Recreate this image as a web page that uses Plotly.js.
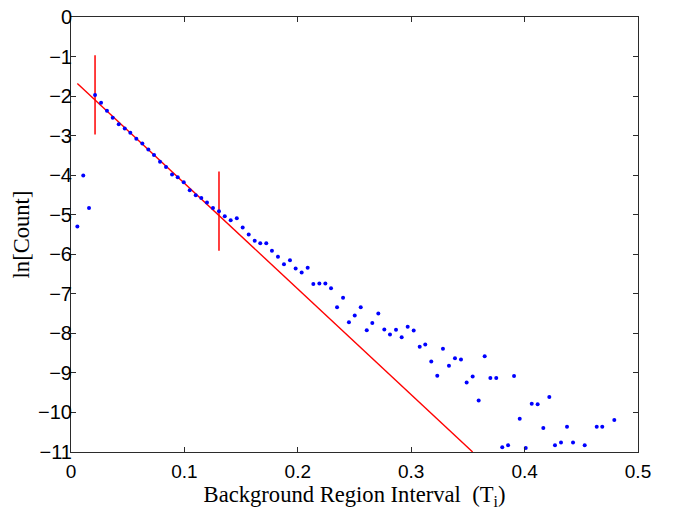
<!DOCTYPE html>
<html>
<head>
<meta charset="utf-8">
<script src="https://cdn.plot.ly/plotly-3.0.1.min.js"></script>
<style>html,body{margin:0;padding:0;background:#fff;}#chart{width:673px;height:512px;}</style>
</head>
<body>
<div id="chart"></div>
<script>
// Observed histogram points: ln[Count] versus background region interval
const intervalX = [0.0056,0.0108,0.0159,0.0212,0.0265,0.0317,0.0368,0.0421,0.0474,0.0523,
  0.0576,0.0629,0.0682,0.0732,0.0785,0.0838,0.0891,0.0941,0.0994,0.1047,
  0.1100,0.1149,0.1199,0.1252,0.1305,0.1356,0.1408,0.1462,0.1514,0.1567,
  0.1620,0.1669,0.1722,0.1772,0.1825,0.1878,0.1931,0.1981,0.2034,0.2087,
  0.2137,0.2190,0.2243,0.2293,0.2346,0.2399,0.2451,0.2502,0.2555,0.2608,
  0.2657,0.2710,0.2763,0.2813,0.2866,0.2916,0.2969,0.3022,0.3075,0.3124,
  0.3177,0.3230,0.3280,0.3333,0.3386,0.3439,0.3489,0.3542,0.3595,0.3648,
  0.3698,0.3750,0.3803,0.3854,0.3907,0.3957,0.4010,0.4063,0.4115,0.4165,
  0.4218,0.4268,0.4321,0.4374,0.4427,0.4530,0.4636,0.4685,0.4791];
const lnCount = [-5.30,-4.01,-4.83,-1.97,-2.17,-2.37,-2.55,-2.71,-2.82,-2.93,
  -3.08,-3.20,-3.35,-3.49,-3.66,-3.79,-3.98,-4.05,-4.18,-4.38,
  -4.51,-4.58,-4.69,-4.83,-4.91,-5.04,-5.14,-5.09,-5.32,-5.50,
  -5.66,-5.72,-5.72,-5.91,-6.06,-6.25,-6.15,-6.36,-6.46,-6.34,
  -6.75,-6.74,-6.74,-6.86,-7.34,-7.10,-7.72,-7.55,-7.34,-7.92,
  -7.74,-7.50,-7.90,-8.03,-7.91,-8.10,-7.83,-7.93,-8.34,-8.28,
  -8.71,-9.07,-8.39,-8.82,-8.63,-8.66,-9.24,-9.09,-9.70,-8.58,
  -9.13,-9.13,-10.88,-10.83,-9.08,-10.16,-10.90,-9.78,-9.79,-10.39,
  -9.61,-10.83,-10.76,-10.36,-10.76,-10.83,-10.36,-10.36,-10.19];

// Fitted straight line (endpoints)
const fitX = [0.0056, 0.3542];
const fitY = [-1.68, -11.0];

// Vertical red markers bounding the fit region (centre and half-length)
const markX = [0.0212, 0.1305];
const markY = [-1.97, -4.91];
const markHalf = [1.0, 1.0];

const xTickVals = [0, 0.1, 0.2, 0.3, 0.4, 0.5];
const yTickVals = [0, -1, -2, -3, -4, -5, -6, -7, -8, -9, -10, -11];

const traces = [
  {x: fitX, y: fitY, mode: 'lines', line: {color: '#ff0000', width: 1.4}, hoverinfo: 'skip'},
  {x: markX, y: markY, mode: 'markers', marker: {size: 0.1, color: 'rgba(0,0,0,0)'},
   error_y: {type: 'data', array: markHalf, symmetric: true, width: 0, thickness: 1.5, color: '#ff0000'}},
  {x: intervalX, y: lnCount, mode: 'markers', marker: {size: 4, color: '#0000ff'}}
];

const axisCommon = {
  showgrid: false, zeroline: false, showline: true, linecolor: '#2b2b2b', linewidth: 1,
  mirror: 'ticks', ticks: 'inside', ticklen: 5, tickcolor: '#2b2b2b', tickwidth: 1
};

const layout = {
  width: 673, height: 512,
  margin: {l: 71, r: 35, t: 17, b: 60},
  paper_bgcolor: '#fff', plot_bgcolor: '#fff',
  showlegend: false,
  xaxis: Object.assign({}, axisCommon, {
    range: [0, 0.5], tickmode: 'array', tickvals: xTickVals,
    tickfont: {family: 'Liberation Sans, Arial, sans-serif', size: 19, color: '#000'},
    ticklabelstandoff: 2,
    title: {text: 'Background Region Interval&nbsp; (T<sub>i</sub>)',
            font: {family: 'Liberation Serif, Times New Roman, serif', size: 22.6, color: '#000'}, standoff: 2}
  }),
  yaxis: Object.assign({}, axisCommon, {
    range: [-11, 0], tickmode: 'array', tickvals: yTickVals,
    tickfont: {family: 'Liberation Sans, Arial, sans-serif', size: 20, color: '#000'},
    ticklabelstandoff: -6,
    title: {text: 'ln[Count]',
            font: {family: 'Liberation Serif, Times New Roman, serif', size: 22.6, color: '#000'}, standoff: 2}
  })
};

Plotly.newPlot('chart', traces, layout, {staticPlot: true, displayModeBar: false});
</script>
</body>
</html>
